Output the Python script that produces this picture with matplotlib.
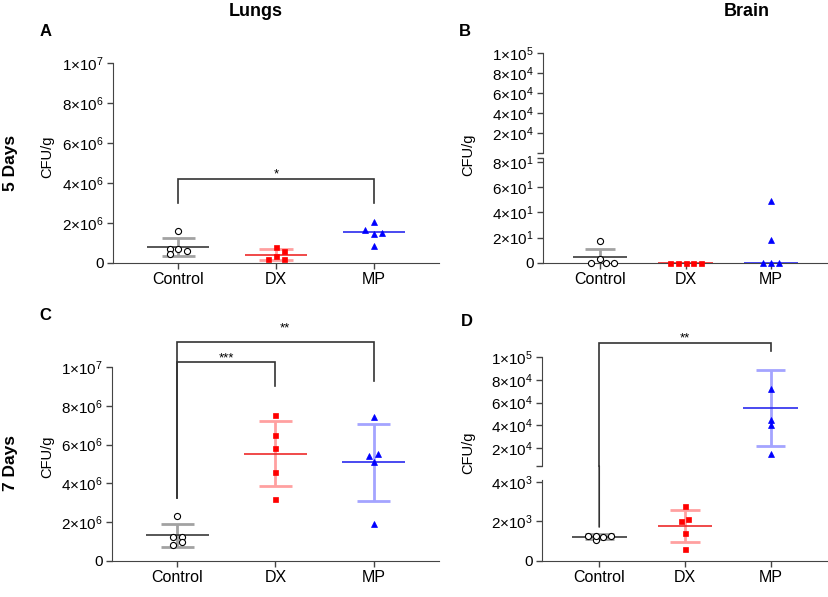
import matplotlib
matplotlib.use('Agg')
import matplotlib.pyplot as plt
from matplotlib.patches import ConnectionPatch

plt.rcParams['font.family'] = ['Liberation Sans', 'DejaVu Sans']
plt.rcParams['mathtext.fontset'] = 'custom'
plt.rcParams['mathtext.rm'] = 'Liberation Sans'
plt.rcParams['mathtext.it'] = 'Liberation Sans:italic'

GROUPS = ['Control', 'DX', 'MP']

# 5 days, lungs (CFU/g)
A_CONTROL = [1.6e6, 0.71e6, 0.47e6, 0.68e6, 0.59e6]
A_DX = [0.81e6, 0.59e6, 0.37e6, 0.2e6, 0.2e6]
A_MP = [2.03e6, 1.64e6, 1.47e6, 1.52e6, 0.85e6]
A_CENTER = [0.8e6, 0.42e6, 1.56e6]
A_LOW = [0.34e6, 0.17e6, None]
A_HIGH = [1.25e6, 0.71e6, None]

# 5 days, brain
B_CONTROL = [17.7, 3.0, 0.0, 0.0, 0.0]
B_DX = [0.0, 0.0, 0.0, 0.0, 0.0]
B_MP = [49.0, 18.0, 0.0, 0.0, 0.0]
B_CENTER = [4.4, 0.0, 0.0]
B_LOW = [-3.0, None, None]
B_HIGH = [11.4, None, None]

# 7 days, lungs
C_CONTROL = [2.32e6, 1.22e6, 1.22e6, 0.96e6, 0.82e6]
C_DX = [7.51e6, 6.52e6, 5.85e6, 4.6e6, 3.19e6]
C_MP = [7.43e6, 5.42e6, 5.54e6, 5.08e6, 1.9e6]
C_CENTER = [1.32e6, 5.52e6, 5.08e6]
C_LOW = [0.74e6, 3.86e6, 3.1e6]
C_HIGH = [1.9e6, 7.22e6, 7.07e6]

# 7 days, brain
D_CONTROL = [1280, 1060, 1280, 1190, 1280]
D_DX = [2790, 2034, 2118, 1395, 605]
D_MP = [71.5e3, 44.7e3, 39.8e3, 14.8e3]
D_CENTER = [1210, 1781, 55.2e3]
D_LOW = [1092, 975, 21.5e3]
D_HIGH = [1345, 2605, 88.4e3]

# horizontal scatter of the dots (layout only)
A_JIT = [[0, -1, -1, 0, 1], [0, 1, 0, -1, 1], [0, -1, 0, 1, 0]]
B_JIT = [[0, 0, -1.2, 0.8, 1.8], [-2, -1, 0, 1, 2], [0, 0, -1, 0, 1]]
C_JIT = [[0, -0.5, 0.5, 0.5, -0.5], [0, 0, 0, 0, 0], [0, -0.5, 0.5, 0, 0]]
D_JIT = [[-1.5, -0.45, -0.45, 0.55, 1.55], [0, -0.55, 0.45, 0, 0], [0, 0, 0, 0]]

STYLES = [
    dict(marker='o', mfc='white', mec='black', ms=4.4, mew=0.8, line='#3a3a3a', err='#a2a2a2'),
    dict(marker='s', mfc='#ff0000', mec='#ff0000', ms=3.6, mew=0.5, line='#ee2a2a', err='#ffa0a0'),
    dict(marker='^', mfc='#0000ff', mec='#0000ff', ms=3.8, mew=0.5, line='#2a2aee', err='#a4a4ff'),
]

W, H = 829, 597
AX_COLOR = '#444444'
XLIM = (1 - 2 / 3, 3 + 2 / 3)
TICK_FS = 11


def px_axes(fig, left, top, right, bottom):
    return fig.add_axes([left / W, 1 - bottom / H, (right - left) / W, (bottom - top) / H])


def fig_text(fig, x, y, s, **kw):
    fig.text(x / W, 1 - y / H, s, **kw)


def sci(m, e):
    return r'$\mathregular{%d{\times}10^{%d}}$' % (m, e)


def style_axis(ax, lower=True):
    ax.set_xlim(*XLIM)
    for side in ['top', 'right']:
        ax.spines[side].set_visible(False)
    ax.spines['left'].set_color(AX_COLOR)
    ax.spines['bottom'].set_color(AX_COLOR)
    ax.tick_params(axis='both', colors=AX_COLOR, labelcolor='black', direction='out',
                   length=4, width=1, labelsize=TICK_FS, pad=2.5)
    ax.patch.set_alpha(0)
    if lower:
        ax.set_xticks([1, 2, 3])
        ax.set_xticklabels(GROUPS, fontsize=11.5)
    else:
        ax.spines['bottom'].set_visible(False)
        ax.set_xticks([])


def draw_group(pick_ax, x, vals, jit, center, low, high, st, step):
    for v, j in zip(vals, jit):
        pick_ax(v).plot(x + j * step, v, linestyle='none', marker=st['marker'], mfc=st['mfc'],
                        mec=st['mec'], ms=st['ms'], mew=st['mew'], clip_on=False, zorder=5)
    ax = pick_ax(center)
    if low is not None:
        ax.vlines(x, low, high, color=st['err'], lw=2, zorder=2)
        ax.hlines([low, high], x - 0.17, x + 0.17, color=st['err'], lw=2, zorder=2)
    ax.hlines(center, x - 0.32, x + 0.32, color=st['line'], lw=1.2, zorder=3)


def draw_panel(pick_ax, data, jits, centers, lows, highs, step):
    for i in range(3):
        draw_group(pick_ax, i + 1, data[i], jits[i], centers[i], lows[i], highs[i], STYLES[i], step)


def bracket(ax, xs, ys):
    ax.plot(xs, ys, color='#333333', lw=1.2, clip_on=False, solid_joinstyle='miter')


def stars(ax, x, y, s):
    ax.text(x, y, s, ha='center', va='center', fontsize=9.5, clip_on=False)


def main():
    fig = plt.figure(figsize=(W / 100, H / 100), dpi=100)

    # ---- A: 5 days lungs
    ax = px_axes(fig, 113, 63, 439, 263)
    style_axis(ax)
    ax.set_ylim(0, 1e7)
    ax.set_yticks([0, 2e6, 4e6, 6e6, 8e6, 1e7])
    ax.set_yticklabels(['0', sci(2, 6), sci(4, 6), sci(6, 6), sci(8, 6), sci(1, 7)])
    draw_panel(lambda v: ax, [A_CONTROL, A_DX, A_MP], A_JIT, A_CENTER, A_LOW, A_HIGH, 0.085)
    bracket(ax, [1, 1, 3, 3], [3.0e6, 4.2e6, 4.2e6, 3.0e6])
    stars(ax, 2, 4.45e6, '*')

    # ---- C: 7 days lungs
    ax = px_axes(fig, 112, 367, 439, 561)
    style_axis(ax)
    ax.set_ylim(0, 1e7)
    ax.set_yticks([0, 2e6, 4e6, 6e6, 8e6, 1e7])
    ax.set_yticklabels(['0', sci(2, 6), sci(4, 6), sci(6, 6), sci(8, 6), sci(1, 7)])
    draw_panel(lambda v: ax, [C_CONTROL, C_DX, C_MP], C_JIT, C_CENTER, C_LOW, C_HIGH, 0.085)
    bracket(ax, [1, 1, 2, 2], [3.25e6, 1.026e7, 1.026e7, 0.9e7])
    bracket(ax, [1, 1, 3, 3], [3.25e6, 1.13e7, 1.13e7, 0.93e7])
    stars(ax, 1.5, 1.045e7, '***')
    stars(ax, 2.1, 1.2e7, '**')

    # ---- B: 5 days brain (broken axis)
    lo = px_axes(fig, 543, 158, 828, 263)
    hi = px_axes(fig, 543, 53, 828, 153)
    style_axis(lo)
    style_axis(hi, lower=False)
    lo.set_ylim(0, 83)
    lo.set_yticks([0, 20, 40, 60, 80, 83])
    lo.set_yticklabels(['0', sci(2, 1), sci(4, 1), sci(6, 1), sci(8, 1), ''])
    hi.set_ylim(0, 1e5)
    hi.set_yticks([0, 2e4, 4e4, 6e4, 8e4, 1e5])
    hi.set_yticklabels(['', sci(2, 4), sci(4, 4), sci(6, 4), sci(8, 4), sci(1, 5)])
    draw_panel(lambda v: lo if v <= 83 else hi, [B_CONTROL, B_DX, B_MP], B_JIT,
               B_CENTER, B_LOW, B_HIGH, 0.09)

    # ---- D: 7 days brain (broken axis)
    lo = px_axes(fig, 542, 480, 828, 561)
    hi = px_axes(fig, 542, 357, 828, 466)
    style_axis(lo)
    style_axis(hi, lower=False)
    lo.set_ylim(0, 4100)
    lo.set_yticks([0, 2000, 4000])
    lo.set_yticklabels(['0', sci(2, 3), sci(4, 3)])
    hi.set_ylim(4200, 1e5)
    hi.set_yticks([4200, 2e4, 4e4, 6e4, 8e4, 1e5])
    hi.set_yticklabels(['', sci(2, 4), sci(4, 4), sci(6, 4), sci(8, 4), sci(1, 5)])
    draw_panel(lambda v: lo if v <= 4100 else hi, [D_CONTROL, D_DX, D_MP], D_JIT,
               D_CENTER, D_LOW, D_HIGH, 0.085)
    bracket(hi, [1, 1, 3, 3], [4200, 112.3e3, 112.3e3, 105.3e3])
    leg = ConnectionPatch(xyA=(1, 1722), coordsA=lo.transData, xyB=(1, 4200), coordsB=hi.transData,
                          color='#333333', lw=1.2)
    fig.add_artist(leg)
    stars(hi, 2, 116.5e3, '**')

    # ---- labels
    fig_text(fig, 256, 11, 'Lungs', ha='center', va='center', fontsize=13, fontweight='bold')
    fig_text(fig, 747, 11, 'Brain', ha='center', va='center', fontsize=13, fontweight='bold')
    for x, y, s in [(46, 32, 'A'), (465, 32, 'B'), (45, 316, 'C'), (467, 322, 'D')]:
        fig_text(fig, x, y, s, ha='center', va='center', fontsize=12, fontweight='bold')
    fig_text(fig, 11, 163, '5 Days', ha='center', va='center', fontsize=12.5, fontweight='bold', rotation=90)
    fig_text(fig, 11, 463, '7 Days', ha='center', va='center', fontsize=12.5, fontweight='bold', rotation=90)
    for x, y in [(47, 157), (468, 155), (47, 457), (468, 453)]:
        fig_text(fig, x, y, 'CFU/g', ha='center', va='center', fontsize=10.5, rotation=90)

    fig.savefig('out.png', dpi=100)
    plt.close(fig)


if __name__ == '__main__':
    main()
